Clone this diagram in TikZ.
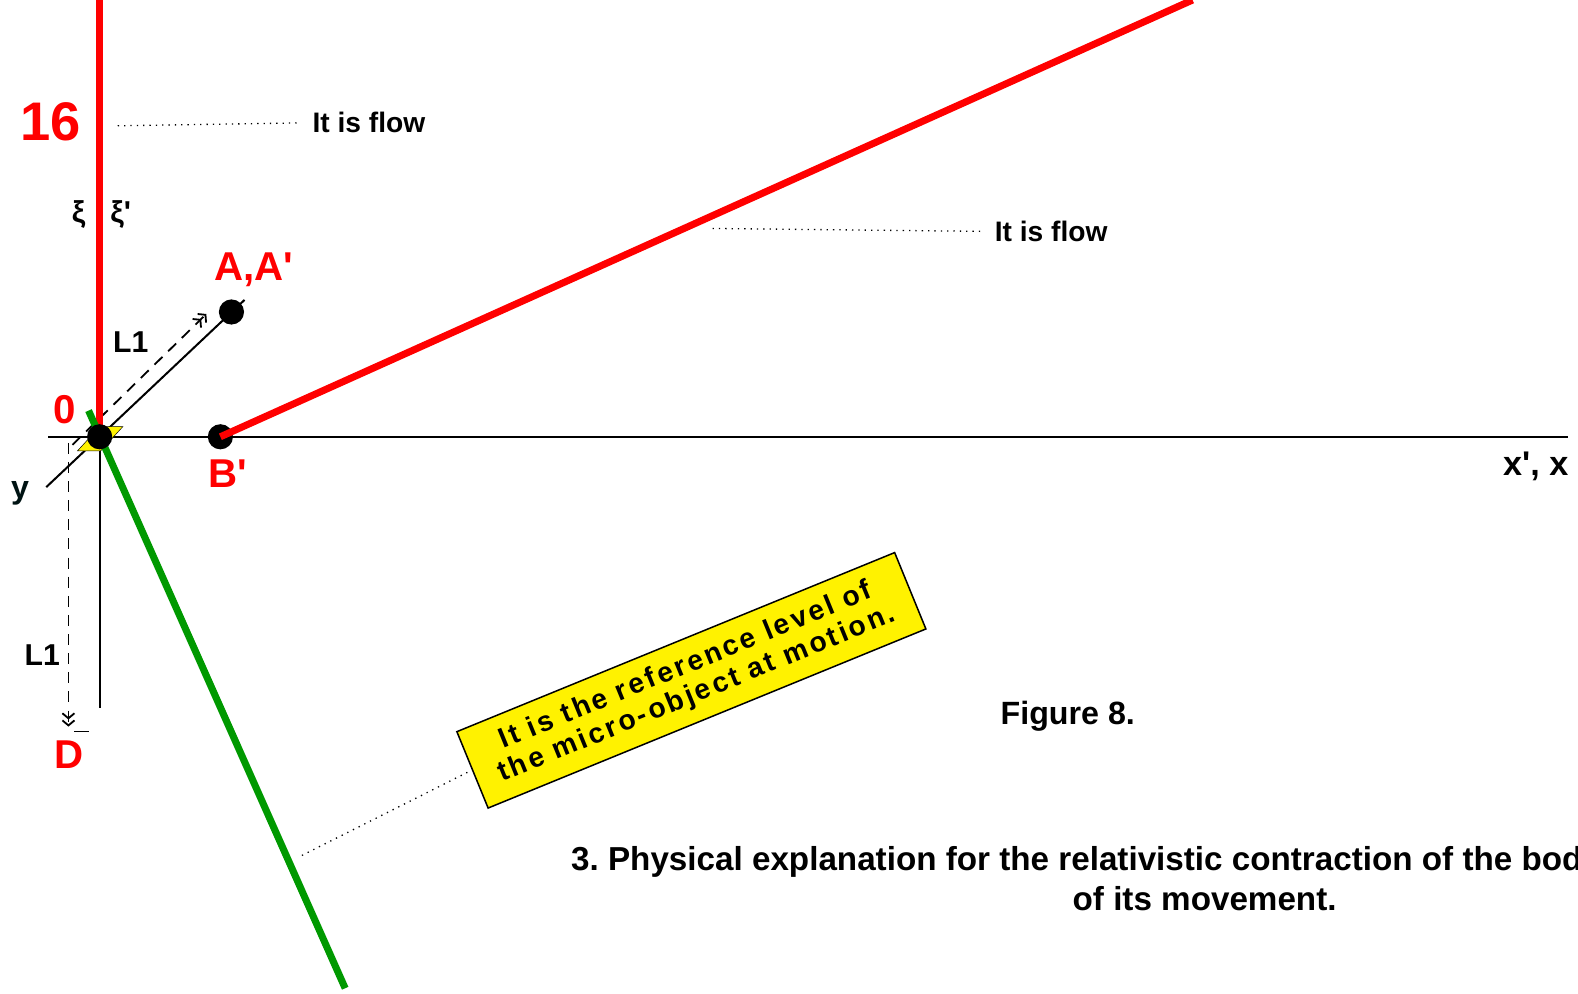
\documentclass[tikz,border=0pt]{standalone}
\usepackage{fontspec}
\setmainfont{Liberation Sans}[Ligatures=TeXOff]
\usetikzlibrary{arrows.meta}
\frenchspacing

\tikzset{
	flow/.style={red, line width=7pt},
	axis/.style={black, line width=2pt},
	guide/.style={black, line width=1.8pt, dash pattern=on 11pt off 8pt},
	hint/.style={black, line width=1.3pt, dash pattern=on 1.3pt off 5pt},
	dot/.style={circle, fill=black, inner sep=0pt, minimum size=25pt},
	redlabel/.style={red, font=\fontsize{40}{40}\selectfont\bfseries},
	blacklabel/.style={black, font=\fontsize{30}{30}\selectfont\bfseries},
	tips/.style={-{Straight Barb[length=5pt,width=12pt] Straight Barb[length=5pt,width=12pt]}}
}

\begin{document}
\begin{tikzpicture}[x=1pt,y=-1pt]
			\useasboundingbox (0,0) rectangle (1568,987);
			\coordinate (o) at (99,434);
			\coordinate (top) at (99,0);
			\coordinate (far) at (1185,0);
			\coordinate (xl) at (48,434);
			\coordinate (xr) at (1558,434);
			\coordinate (low) at (99,704);
			\coordinate (yl) at (46,484);
			\coordinate (yr) at (243,298);
			\coordinate (gs) at (88,408);
			\coordinate (ge) at (343,982);
			\draw[axis] (xl) -- (xr);
			\draw[axis] (o) -- (low);
			\draw[axis] (yl) -- (yr);
			\draw[guide][tips] (72,442) -- (205,312);
			\draw[guide][tips] (68,440) -- (68,722);
			\draw[black, line width=1.6pt] (74,727) -- (88,727);
			\fill[yellow, draw=black, line width=0.5pt] (77,448) -- (100,448) -- (122,424) -- (99,424) -- cycle;
			\draw[flow] (o) -- (top);
			\draw[green!60!black, line width=7pt] (gs) -- (ge);
			\node[dot] (b) at (219,434) {};
			\draw[flow] (b.center) -- (far);
			\node[dot] (a) at (230,310) {};
			\node[dot] (z) at (o) {};
			% labels
			\node[red, font=\fontsize{54}{54}\selectfont\bfseries] (n16) at (50,121) {16};
			\node[redlabel] (n0) at (64,407) {0};
			\node[redlabel] (na) at (252,268) {A,A'};
			\node[redlabel] (nb) at (226,471) {B'};
			\node[redlabel] (nd) at (69,750) {D};
			\node[blacklabel] (l1a) at (130,340) {L1};
			\node[blacklabel] (l1b) at (42,651) {L1};
			\node[black!85!teal, font=\fontsize{32}{32}\selectfont\bfseries] (ny) at (20,490) {y};
			\node[black, font=\fontsize{34}{34}\selectfont\bfseries] (nx) at (1526,463) {x', x};
			\node[black, font=\fontsize{30}{30}\selectfont\bfseries] (xi) at (78,213) {ξ};
			\node[black, font=\fontsize{30}{30}\selectfont\bfseries] (xip) at (120,213) {ξ'};
			% flow notes
			\node[black, font=\fontsize{28}{28}\selectfont\bfseries, anchor=west] (f1) at (307,122) {It is flow};
			\draw[hint][shorten >=8pt] (117,125) -- (f1.west);
			\node[black, font=\fontsize{28}{28}\selectfont\bfseries, anchor=west] (f2) at (985,230) {It is flow};
			\draw[hint][shorten >=8pt] (708,227) -- (f2.west);
			% reference level
			\node[draw=black, line width=1.5pt, fill=yellow, rotate=22.25, minimum width=470pt, minimum height=82pt, align=center,
				font=\fontsize{28}{30}\selectfont\bfseries\addfontfeature{LetterSpace=10}] (box) at (687,676) {It is the reference level of\\the micro-object at motion.};
			\coordinate (gm) at (300,850);
			\draw[hint] (gm) -- (box.west);
			\node[black, font=\fontsize{32}{32}\selectfont\bfseries] (fig) at (1061,712) {Figure 8.};
			\node[black, font=\fontsize{33}{33}\selectfont\bfseries, anchor=base west] (t1) at (564,865) {3. Physical explanation for the relativistic contraction of the bod};
			\node[black, font=\fontsize{33}{33}\selectfont\bfseries, anchor=base] (t2) at (1197,905) {of its movement.};
\end{tikzpicture}
\end{document}
